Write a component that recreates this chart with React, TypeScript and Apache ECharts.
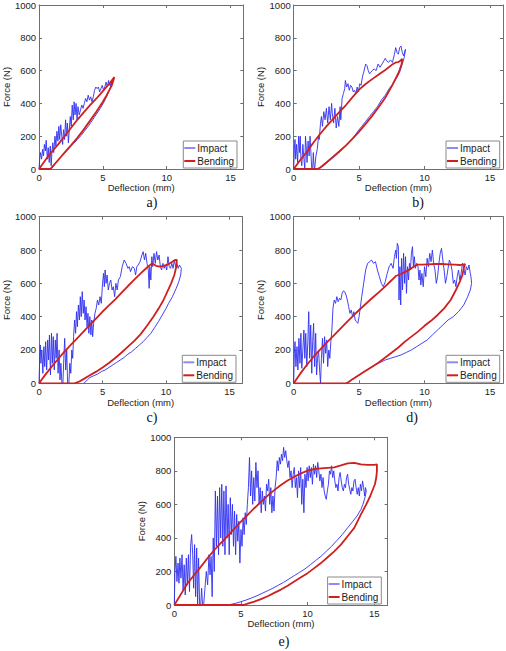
import React, { useEffect, useRef } from "react";
import * as echarts from "echarts";

type Pt = [number, number];

// Axis ranges and tick steps (deflection in mm, force in N)
const deflectionRange: [number, number] = [0, 16];
const deflectionStep = 5;
const forceRange: [number, number] = [0, 1000];
const forceStep = 200;

const panelLabels = ["a)", "b)", "c)", "d)", "e)"];
const seriesNames = ["Impact", "Bending"];

// ---- a) ----
const impactA: Pt[] = [
  [0, 0], [0.05, 60], [0.12, 100], [0.2, 60], [0.28, 120], [0.35, 80], [0.42, 150], [0.5, 110], [0.56, 175], [0.65, 60],
  [0.72, 130], [0.8, 40], [0.88, 140], [0.95, 20], [1.0, 90], [1.08, 160], [1.15, 100], [1.25, 200], [1.32, 140], [1.4, 230],
  [1.48, 170], [1.55, 260], [1.62, 180], [1.7, 270], [1.78, 200], [1.85, 150], [1.92, 240], [2.0, 180], [2.08, 300], [2.15, 200],
  [2.22, 280], [2.3, 160], [2.38, 250], [2.45, 320], [2.52, 260], [2.6, 390], [2.68, 300], [2.75, 410], [2.82, 330], [2.9, 400],
  [2.98, 300], [3.05, 380], [3.15, 330], [3.25, 360], [3.35, 390], [3.45, 370], [3.55, 400], [3.65, 430], [3.75, 410], [3.85, 450],
  [3.95, 420], [4.05, 440], [4.15, 410], [4.25, 440], [4.35, 480], [4.45, 500], [4.55, 490], [4.65, 500], [4.75, 470], [4.85, 490],
  [4.95, 510], [5.05, 480], [5.15, 500], [5.25, 530], [5.35, 500], [5.45, 540], [5.5, 510], [5.6, 520], [5.65, 500], [5.7, 540],
  [5.6, 500], [5.4, 460], [5.1, 410], [4.8, 370], [4.5, 335], [4.2, 300], [3.9, 265], [3.6, 235], [3.3, 205], [3.0, 180],
  [2.7, 155], [2.4, 130], [2.1, 105], [1.8, 80], [1.5, 55], [1.2, 25], [1.0, 5], [0.95, 0],
];
const bendingA: Pt[] = [
  [0, 0], [0.5, 55], [1, 105], [1.5, 150], [2, 200], [2.5, 250], [3, 300], [3.5, 345], [4, 390], [4.5, 430], [5, 475],
  [5.5, 520], [5.9, 560], [5.7, 510], [5.3, 450], [5, 410], [4.5, 350], [4, 295], [3.5, 240], [3, 190], [2.5, 145],
  [2, 100], [1.5, 55], [1.0, 10], [0.9, 0], [0, 0],
];

// ---- b) ----
const impactB: Pt[] = [
  [0, 0], [0.05, 120], [0.1, 180], [0.15, 60], [0.22, 150], [0.3, 40], [0.38, 200], [0.45, 100], [0.5, 200], [0.55, 60],
  [0.62, 20], [0.7, 150], [0.78, 60], [0.85, 0], [0.9, 200], [0.97, 120], [1.02, 40], [1.1, 170], [1.18, 80], [1.25, 200],
  [1.3, 120], [1.38, 0], [1.45, 0], [1.5, 100], [1.55, 20], [1.6, 0], [1.7, 80], [1.8, 120], [1.9, 200], [1.95, 180],
  [2.05, 280], [2.12, 320], [2.2, 260], [2.3, 350], [2.4, 300], [2.5, 370], [2.6, 280], [2.7, 380], [2.8, 300], [2.9, 400],
  [2.95, 340], [3.05, 280], [3.15, 370], [3.25, 250], [3.35, 320], [3.45, 260], [3.55, 380], [3.6, 300], [3.7, 430], [3.8, 460],
  [3.9, 490], [3.95, 540], [4.05, 500], [4.15, 520], [4.25, 480], [4.35, 510], [4.45, 500], [4.55, 470], [4.65, 480], [4.75, 460],
  [4.85, 500], [4.95, 470], [5.05, 520], [5.15, 510], [5.25, 560], [5.35, 590], [5.5, 640], [5.6, 630], [5.7, 600], [5.8, 580],
  [5.9, 590], [6.0, 600], [6.15, 610], [6.3, 600], [6.45, 640], [6.6, 620], [6.75, 640], [6.9, 660], [7.0, 675], [7.1, 660],
  [7.25, 650], [7.4, 665], [7.55, 650], [7.7, 700], [7.8, 740], [7.9, 710], [8.0, 700], [8.1, 740], [8.2, 750], [8.3, 710],
  [8.4, 690], [8.5, 720], [8.55, 730], [8.45, 680], [8.3, 640], [8.1, 590], [7.9, 560], [7.6, 520], [7.3, 490], [7.0, 450],
  [6.7, 420], [6.4, 380], [6.1, 350], [5.8, 320], [5.5, 290], [5.2, 260], [4.9, 230], [4.6, 195], [4.3, 170], [4.0, 145],
  [3.7, 120], [3.4, 95], [3.1, 75], [2.8, 55], [2.5, 35], [2.2, 15], [1.9, 0],
];
const bendingB: Pt[] = [
  [0, 0], [0.5, 55], [1, 104], [1.5, 160], [2, 212], [2.5, 260], [3, 304], [3.5, 348], [4, 390], [4.5, 438], [5, 484],
  [5.5, 518], [6, 548], [6.5, 576], [7, 604], [7.5, 635], [7.8, 650], [8.0, 652], [8.15, 660], [8.3, 672], [8.25, 640],
  [8.1, 605], [8, 584], [7.5, 505], [7, 434], [6.5, 378], [6, 324], [5.5, 275], [5, 228], [4.5, 185], [4, 144],
  [3.5, 108], [3, 74], [2.5, 40], [2.2, 20], [2, 8], [1.8, 0], [0, 0],
];

// ---- c) ----
const impactC: Pt[] = [
  [0, 0], [0.05, 150], [0.1, 230], [0.15, 120], [0.22, 200], [0.3, 60], [0.38, 220], [0.45, 100], [0.52, 250], [0.6, 80],
  [0.68, 260], [0.75, 140], [0.82, 290], [0.9, 50], [0.98, 300], [1.05, 120], [1.12, 280], [1.2, 80], [1.28, 260], [1.35, 150],
  [1.42, 300], [1.5, 60], [1.58, 200], [1.65, 20], [1.72, 120], [1.8, 0], [1.88, 0], [1.95, 150], [2.02, 270], [2.1, 80],
  [2.18, 200], [2.25, 0], [2.35, 0], [2.42, 120], [2.5, 60], [2.58, 200], [2.65, 150], [2.72, 280], [2.8, 380], [2.88, 300],
  [2.95, 430], [3.02, 340], [3.1, 470], [3.18, 380], [3.25, 520], [3.32, 400], [3.4, 550], [3.48, 420], [3.55, 500], [3.62, 380],
  [3.7, 460], [3.78, 340], [3.85, 420], [3.92, 300], [4.0, 400], [4.08, 290], [4.15, 380], [4.22, 280], [4.3, 360], [4.4, 420],
  [4.5, 450], [4.6, 500], [4.7, 470], [4.8, 520], [4.9, 480], [5.0, 600], [5.08, 660], [5.14, 580], [5.2, 680], [5.28, 600],
  [5.36, 650], [5.45, 560], [5.55, 600], [5.65, 620], [5.75, 560], [5.85, 580], [5.95, 520], [6.05, 600], [6.15, 560], [6.25, 620],
  [6.4, 640], [6.55, 700], [6.7, 740], [6.85, 720], [7.0, 690], [7.1, 700], [7.2, 670], [7.35, 700], [7.5, 690], [7.6, 650],
  [7.7, 700], [7.8, 710], [7.95, 730], [8.1, 770], [8.2, 790], [8.3, 740], [8.4, 780], [8.5, 720], [8.6, 680], [8.67, 570],
  [8.72, 700], [8.8, 620], [8.88, 760], [8.95, 700], [9.05, 780], [9.15, 720], [9.25, 790], [9.35, 740], [9.45, 770], [9.55, 700],
  [9.65, 680], [9.75, 720], [9.85, 690], [9.95, 710], [10.05, 680], [10.15, 760], [10.25, 700], [10.35, 690], [10.45, 720], [10.55, 690],
  [10.65, 740], [10.75, 700], [10.85, 720], [10.95, 690], [11.05, 710], [11.2, 690], [11.15, 650], [11.0, 610], [10.8, 570], [10.5, 520],
  [10.2, 480], [10.0, 450], [9.7, 410], [9.4, 370], [9.1, 335], [8.8, 300], [8.5, 275], [8.2, 250], [7.9, 230], [7.6, 210],
  [7.3, 190], [7.0, 175], [6.7, 155], [6.4, 140], [6.1, 125], [5.8, 110], [5.5, 95], [5.2, 80], [4.9, 70], [4.6, 55],
  [4.3, 45], [4.0, 35], [3.8, 20], [3.6, 5], [3.5, 0],
];
const bendingC: Pt[] = [
  [0, 0], [0.5, 52], [1, 100], [1.5, 146], [2, 190], [2.5, 230], [3, 270], [3.5, 310], [4, 350], [4.5, 390], [5, 430],
  [5.5, 468], [6, 504], [6.5, 544], [7, 584], [7.5, 622], [8, 660], [8.5, 695], [8.9, 720], [9.2, 705], [9.5, 700],
  [9.8, 705], [10.1, 712], [10.4, 725], [10.7, 740], [10.85, 740], [10.8, 700], [10.65, 650], [10.4, 600], [10.1, 550], [9.8, 500],
  [9.5, 460], [9, 400], [8.5, 345], [8, 295], [7.5, 255], [7, 220], [6.5, 185], [6, 152], [5.5, 122], [5, 95],
  [4.5, 70], [4, 48], [3.5, 25], [3.1, 8], [2.8, 0], [0, 0],
];

// ---- d) ----
const impactD: Pt[] = [
  [0, 0], [0.05, 180], [0.1, 250], [0.17, 100], [0.25, 220], [0.32, 80], [0.4, 270], [0.48, 120], [0.55, 300], [0.62, 90],
  [0.7, 200], [0.78, 320], [0.85, 150], [0.92, 300], [1.0, 100], [1.08, 250], [1.15, 430], [1.22, 150], [1.3, 350], [1.38, 60],
  [1.45, 250], [1.52, 360], [1.6, 100], [1.68, 300], [1.75, 50], [1.82, 150], [1.9, 200], [1.98, 80], [2.05, 0], [2.12, 150],
  [2.2, 270], [2.28, 120], [2.36, 280], [2.44, 180], [2.52, 260], [2.6, 100], [2.68, 200], [2.76, 150], [2.84, 250], [2.92, 320],
  [3.0, 450], [3.1, 500], [3.2, 480], [3.3, 520], [3.4, 490], [3.5, 510], [3.6, 500], [3.7, 540], [3.8, 555], [3.9, 550],
  [4.0, 530], [4.1, 500], [4.2, 460], [4.3, 420], [4.4, 440], [4.5, 400], [4.6, 430], [4.7, 380], [4.8, 370], [4.9, 360],
  [5.0, 400], [5.1, 460], [5.2, 520], [5.35, 600], [5.5, 680], [5.65, 720], [5.8, 730], [5.95, 740], [6.1, 720], [6.25, 730],
  [6.4, 680], [6.55, 640], [6.7, 600], [6.85, 580], [7.0, 610], [7.15, 660], [7.3, 700], [7.45, 720], [7.6, 690], [7.7, 760],
  [7.8, 800], [7.85, 750], [7.92, 840], [8.0, 820], [8.05, 500], [8.12, 700], [8.18, 470], [8.25, 750], [8.32, 560], [8.4, 780],
  [8.48, 600], [8.55, 760], [8.62, 540], [8.7, 700], [8.78, 620], [8.85, 720], [8.92, 680], [9.0, 780], [9.08, 820], [9.15, 700],
  [9.22, 760], [9.3, 690], [9.4, 720], [9.5, 700], [9.58, 620], [9.65, 680], [9.72, 590], [9.8, 660], [9.9, 580], [10.0, 700],
  [10.1, 640], [10.2, 750], [10.3, 700], [10.4, 780], [10.5, 730], [10.6, 800], [10.7, 720], [10.8, 680], [10.9, 600], [11.0, 640],
  [11.1, 720], [11.2, 780], [11.3, 810], [11.4, 740], [11.5, 680], [11.6, 600], [11.7, 640], [11.8, 690], [11.9, 740], [12.0, 720],
  [12.1, 680], [12.2, 600], [12.3, 620], [12.4, 580], [12.5, 640], [12.6, 680], [12.7, 620], [12.8, 660], [12.9, 720], [13.0, 690],
  [13.1, 650], [13.2, 700], [13.3, 680], [13.4, 710], [13.5, 660], [13.55, 640], [13.6, 600], [13.5, 560], [13.3, 520], [13.0, 470],
  [12.6, 430], [12.2, 400], [11.8, 380], [11.4, 350], [11.0, 320], [10.6, 290], [10.2, 260], [9.8, 240], [9.4, 220], [9.0, 200],
  [8.6, 185], [8.2, 170], [7.8, 160], [7.4, 150], [7.0, 140], [6.6, 125], [6.2, 110], [5.8, 90], [5.4, 70], [5.0, 50],
  [4.6, 30], [4.3, 12], [4.1, 0],
];
const bendingD: Pt[] = [
  [0, 0], [0.5, 58], [1, 110], [1.5, 158], [2, 200], [2.5, 242], [3, 282], [3.5, 322], [4, 362], [4.5, 402], [5, 440],
  [5.5, 476], [6, 512], [6.5, 546], [7, 582], [7.5, 620], [7.8, 644], [8.2, 656], [8.6, 672], [9, 690], [9.4, 712],
  [9.8, 712], [10.3, 714], [10.8, 716], [11.3, 716], [11.8, 714], [12.3, 712], [12.7, 710], [13.0, 714], [13.1, 716], [13.0, 690],
  [12.9, 650], [12.7, 610], [12.4, 560], [12, 500], [11.5, 450], [11, 410], [10.5, 375], [10, 345], [9.5, 310], [9, 280],
  [8.5, 250], [8, 215], [7.5, 185], [7, 155], [6.5, 125], [6, 100], [5.5, 75], [5, 50], [4.5, 25], [4.2, 8],
  [4, 0], [0, 0],
];

// ---- e) ----
const impactE: Pt[] = [
  [0, 0], [0.05, 200], [0.12, 290], [0.2, 140], [0.28, 250], [0.35, 130], [0.42, 280], [0.5, 160], [0.58, 300], [0.66, 90],
  [0.74, 240], [0.82, 60], [0.9, 280], [0.98, 120], [1.06, 300], [1.14, 80], [1.22, 350], [1.3, 420], [1.38, 300], [1.45, 100],
  [1.52, 360], [1.6, 50], [1.68, 340], [1.75, 0], [1.82, 280], [1.9, 0], [1.98, 0], [2.05, 100], [2.12, 0], [2.2, 0],
  [2.3, 100], [2.4, 200], [2.5, 120], [2.6, 300], [2.68, 180], [2.76, 290], [2.84, 50], [2.92, 400], [3.0, 200], [3.08, 680],
  [3.16, 350], [3.24, 650], [3.32, 300], [3.4, 700], [3.48, 400], [3.56, 720], [3.64, 350], [3.72, 680], [3.8, 300], [3.88, 710],
  [3.96, 400], [4.04, 600], [4.12, 300], [4.2, 640], [4.28, 420], [4.36, 600], [4.44, 350], [4.52, 560], [4.6, 300], [4.68, 540],
  [4.76, 380], [4.84, 500], [4.92, 250], [5.0, 450], [5.08, 350], [5.16, 520], [5.24, 420], [5.32, 550], [5.4, 480], [5.48, 600],
  [5.56, 700], [5.64, 880], [5.72, 650], [5.8, 800], [5.88, 600], [5.96, 760], [6.04, 620], [6.12, 850], [6.2, 700], [6.28, 800],
  [6.36, 600], [6.44, 700], [6.52, 550], [6.6, 680], [6.68, 600], [6.76, 650], [6.84, 560], [6.92, 720], [7.0, 680], [7.08, 750],
  [7.16, 600], [7.24, 700], [7.32, 550], [7.4, 650], [7.48, 560], [7.56, 700], [7.64, 760], [7.72, 860], [7.8, 800], [7.88, 880],
  [7.96, 840], [8.04, 900], [8.12, 860], [8.2, 940], [8.28, 880], [8.36, 920], [8.44, 860], [8.52, 820], [8.6, 860], [8.68, 760],
  [8.76, 800], [8.84, 700], [8.92, 780], [9.0, 820], [9.08, 700], [9.16, 760], [9.24, 640], [9.32, 800], [9.4, 700], [9.48, 820],
  [9.56, 600], [9.64, 750], [9.72, 550], [9.8, 780], [9.88, 700], [9.96, 820], [10.04, 740], [10.12, 830], [10.2, 760], [10.28, 820],
  [10.36, 720], [10.44, 840], [10.52, 780], [10.6, 830], [10.68, 760], [10.76, 850], [10.84, 800], [10.92, 740], [11.0, 780], [11.08, 700],
  [11.16, 760], [11.24, 680], [11.32, 650], [11.4, 630], [11.48, 680], [11.56, 720], [11.64, 800], [11.72, 780], [11.8, 830], [11.88, 760],
  [11.96, 800], [12.04, 740], [12.12, 700], [12.2, 720], [12.28, 680], [12.36, 760], [12.44, 790], [12.52, 740], [12.6, 700], [12.68, 680],
  [12.76, 720], [12.84, 700], [12.92, 760], [13.0, 780], [13.08, 720], [13.16, 690], [13.24, 660], [13.32, 700], [13.4, 680], [13.48, 740],
  [13.56, 750], [13.64, 700], [13.72, 660], [13.8, 700], [13.88, 650], [13.96, 720], [14.04, 680], [14.12, 740], [14.2, 700], [14.28, 650],
  [14.34, 700], [14.4, 680], [14.3, 640], [14.15, 600], [14.0, 570], [13.7, 530], [13.4, 500], [13.0, 460], [12.6, 420], [12.2, 385],
  [11.8, 350], [11.4, 320], [11.0, 290], [10.6, 265], [10.2, 240], [9.8, 215], [9.4, 195], [9.0, 175], [8.6, 155], [8.2, 135],
  [7.8, 118], [7.4, 100], [7.0, 85], [6.6, 70], [6.2, 55], [5.8, 42], [5.4, 30], [5.0, 20], [4.6, 10], [4.2, 3],
  [3.9, 0],
];
const bendingE: Pt[] = [
  [0, 0], [0.5, 65], [1, 130], [1.5, 180], [2, 229], [2.5, 280], [3, 328], [3.5, 370], [4, 411], [4.5, 455], [5, 497],
  [5.5, 537], [6, 577], [6.5, 615], [7, 652], [7.5, 685], [8, 716], [8.5, 742], [9, 765], [9.5, 785], [10, 801],
  [10.5, 810], [11, 815], [11.5, 818], [12, 821], [12.5, 832], [13, 845], [13.5, 848], [14, 838], [14.5, 835], [15, 836],
  [15.2, 838], [15.2, 800], [15.15, 760], [15.05, 720], [14.9, 690], [14.7, 650], [14.4, 600], [14, 540], [13.5, 460], [13, 410],
  [12.5, 360], [12, 320], [11.5, 285], [11, 250], [10.5, 220], [10, 190], [9.5, 165], [9, 140], [8.5, 115], [8, 92],
  [7.5, 72], [7, 52], [6.5, 35], [6, 20], [5.5, 8], [5.2, 0], [0, 0],
];

const impactSets = [impactA, impactB, impactC, impactD, impactE];
const bendingSets = [bendingA, bendingB, bendingC, bendingD, bendingE];

// Plot frames in page pixels
const frames = [
  { left: 31, top: 1, width: 212.3, height: 168 },
  { left: 293.7, top: 1, width: 213.3, height: 168 },
  { left: 31, top: 216.7, width: 211.3, height: 166.6 },
  { left: 293.7, top: 216.7, width: 214.4, height: 166.6 },
  { left: 174.3, top: 437.3, width: 213.3, height: 167.7 },
];
// Subplot caption centres
const captionPos = [
  [152, 202],
  [418, 202],
  [152, 417],
  [412, 417],
  [284, 641],
];

const SANS = "'Liberation Sans', Arial, sans-serif";
const SERIF = "'Liberation Serif', 'Times New Roman', serif";
const AXIS = "#6f6f6f";
const TEXT = "#222";
const BLUE = "#2f2ff0";
const BLUE_KEY = "#8c8cf2";
const RED = "#cf1f1f";

export default function App() {
  const ref = useRef<HTMLDivElement>(null);

  useEffect(() => {
    if (!ref.current) return;
    const chart = echarts.init(ref.current, undefined, { renderer: "svg" });

    const grid: any[] = [];
    const xAxis: any[] = [];
    const yAxis: any[] = [];
    const series: any[] = [];
    const legend: any[] = [];
    const graphic: any[] = [];

    frames.forEach((f, i) => {
      grid.push({ left: f.left, top: f.top, width: f.width, height: f.height, containLabel: false });
      const lineStyle = { color: AXIS, width: 1 };
      const tick = { inside: true, length: 3, lineStyle };
      xAxis.push({
        gridIndex: i,
        type: "value",
        position: "bottom",
        min: deflectionRange[0],
        max: deflectionRange[1],
        interval: deflectionStep,
        axisLine: { show: true, onZero: false, lineStyle },
        axisTick: tick,
        splitLine: { show: false },
        axisLabel: {
          fontSize: 9.5,
          fontFamily: SANS,
          color: TEXT,
          margin: 3,
          formatter: (v: number) => (v % deflectionStep === 0 ? String(v) : ""),
        },
        name: "Deflection (mm)",
        nameLocation: "middle",
        nameGap: 12,
        nameTextStyle: { fontSize: 9.5, fontFamily: SANS, color: TEXT },
      });
      xAxis.push({
        gridIndex: i,
        type: "value",
        position: "top",
        min: deflectionRange[0],
        max: deflectionRange[1],
        interval: deflectionStep,
        axisLine: { show: true, onZero: false, lineStyle },
        axisTick: tick,
        splitLine: { show: false },
        axisLabel: { show: false },
      });
      yAxis.push({
        gridIndex: i,
        type: "value",
        position: "left",
        min: forceRange[0],
        max: forceRange[1],
        interval: forceStep,
        axisLine: { show: true, onZero: false, lineStyle },
        axisTick: tick,
        splitLine: { show: false },
        axisLabel: {
          fontSize: 9.5,
          fontFamily: SANS,
          color: TEXT,
          margin: 3,
          formatter: (v: number) => String(v),
        },
        name: "Force (N)",
        nameLocation: "middle",
        nameGap: 25,
        nameTextStyle: { fontSize: 9.5, fontFamily: SANS, color: TEXT },
      });
      yAxis.push({
        gridIndex: i,
        type: "value",
        position: "right",
        min: forceRange[0],
        max: forceRange[1],
        interval: forceStep,
        axisLine: { show: true, onZero: false, lineStyle },
        axisTick: tick,
        splitLine: { show: false },
        axisLabel: { show: false },
      });

      series.push({
        type: "line",
        name: seriesNames[0],
        xAxisIndex: i * 2,
        yAxisIndex: i * 2,
        data: impactSets[i],
        symbol: "none",
        lineStyle: { color: BLUE, width: 0.9 },
        itemStyle: { color: BLUE },
      });
      series.push({
        type: "line",
        name: seriesNames[1],
        xAxisIndex: i * 2,
        yAxisIndex: i * 2,
        data: bendingSets[i],
        symbol: "none",
        lineStyle: { color: RED, width: 1.8 },
        itemStyle: { color: RED },
      });

      const right = f.left + f.width;
      const bottom = f.top + f.height;
      legend.push({
        data: [
          { name: seriesNames[0], icon: "rect", itemStyle: { color: BLUE_KEY } },
          { name: seriesNames[1], icon: "rect", itemStyle: { color: RED } },
        ],
        orient: "vertical",
        left: Math.min(right - 60, 446),
        top: bottom - 28,
        itemWidth: 11,
        itemHeight: 2,
        itemGap: 1,
        padding: [1, 3, 1, 1],
        borderColor: "#8a8a8a",
        borderWidth: 1,
        borderRadius: 0,
        backgroundColor: "#fff",
        selectedMode: false,
        textStyle: { fontSize: 10, fontFamily: SANS, color: TEXT, padding: [0, 0, 0, -3], lineHeight: 12 },
      });

      graphic.push({
        type: "text",
        x: captionPos[i][0],
        y: captionPos[i][1],
        style: {
          text: panelLabels[i],
          font: `14px ${SERIF}`,
          fill: "#111",
          textAlign: "center",
          textVerticalAlign: "middle",
        },
      });
    });

    chart.setOption({
      animation: false,
      backgroundColor: "#fff",
      grid,
      xAxis,
      yAxis,
      series,
      legend,
      graphic,
    });

    return () => chart.dispose();
  }, []);

  return (
    <div
      ref={ref}
      style={{ position: "fixed", left: 0, top: 0, width: 506, height: 651, background: "#fff" }}
    />
  );
}
